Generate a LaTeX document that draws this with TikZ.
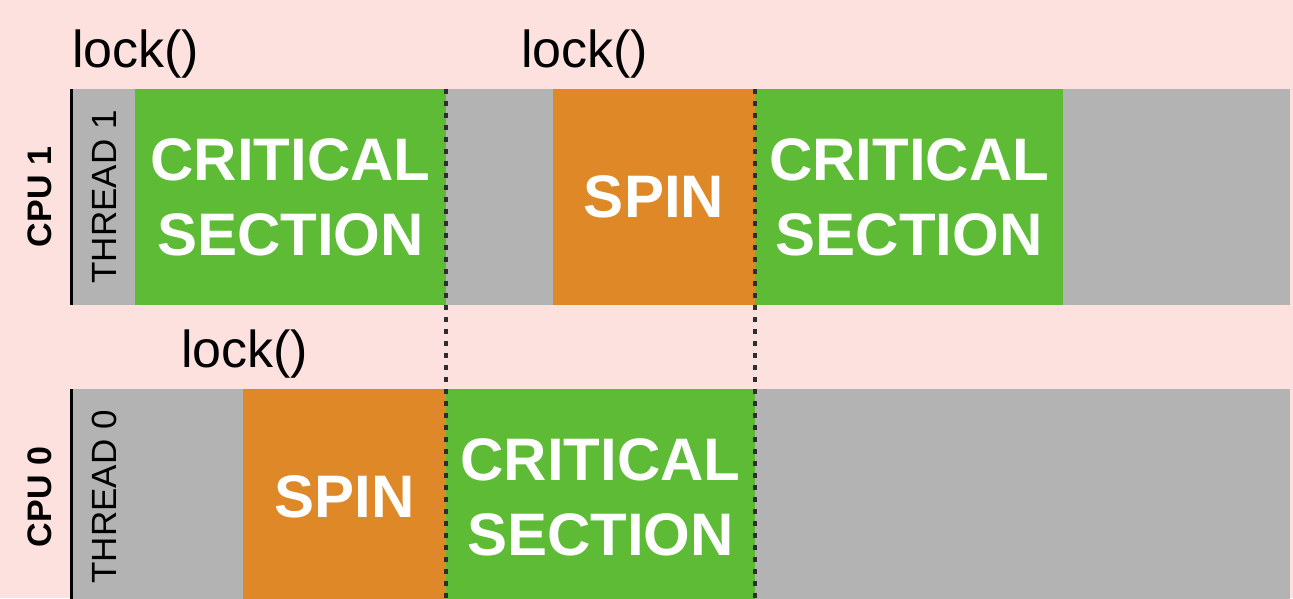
\documentclass[tikz,border=0pt]{standalone}
\usepackage{fontspec}
\setmainfont{Liberation Sans}
\definecolor{bgpink}{HTML}{FCE1DE}
\definecolor{segGray}{HTML}{B3B3B3}
\definecolor{segGreen}{HTML}{5DBB35}
\definecolor{segOrange}{HTML}{DF8827}
\definecolor{dashGray}{HTML}{2E2E2E}
\begin{document}
\begin{tikzpicture}[x=1pt,y=-1pt,
  seg/.style={anchor=north west, inner sep=0pt, outer sep=0pt, minimum height=216pt, draw=none, text=white, align=center, font=\fontsize{60}{75}\selectfont\bfseries},
  idle/.style={seg, fill=segGray},
  crit/.style={seg, fill=segGreen},
  spinbox/.style={seg, fill=segOrange},
  locklbl/.style={anchor=base west, inner sep=0pt, font=\fontsize{52}{58}\selectfont},
  cpulbl/.style={rotate=90, inner sep=0pt, font=\fontsize{34}{40}\selectfont\bfseries},
  thrlbl/.style={rotate=90, inner sep=0pt, font=\fontsize{35}{40}\selectfont, text=black},
  axisline/.style={line width=3pt, black},
  syncline/.style={line width=3.2pt, dashGray, dash pattern=on 5pt off 7pt}
]
\fill[bgpink] (0,0) rectangle (1293,598);
\useasboundingbox (0,0) rectangle (1293,598);

% CPU 1 row
\node[idle, minimum width=64pt] (t1lab) at (71,89) {};
\node[crit, minimum width=311pt] (c1a) at (135,89) {CRITICAL\\SECTION};
\node[idle, minimum width=107pt] (g1a) at (446,89) {};
\node[spinbox, minimum width=202pt] (s1) at (553,89) {SPIN};
\node[crit, minimum width=308pt] (c1b) at (755,89) {CRITICAL\\SECTION};
\node[idle, minimum width=227pt] (g1b) at (1063,89) {};

% CPU 0 row
\node[idle, minimum width=172pt] (g0a) at (71,389) {};
\node[spinbox, minimum width=203pt] (s0) at (243,389) {SPIN};
\node[crit, minimum width=309pt] (c0) at (446,389) {CRITICAL\\SECTION};
\node[idle, minimum width=535pt] (g0b) at (755,389) {};

% axis lines
\draw[axisline] (t1lab.north west) -- (t1lab.south west);
\draw[axisline] (g0a.north west) -- (g0a.south west);

% labels
\node[cpulbl] (cpu1) at (40,197) {CPU 1};
\node[cpulbl] (cpu0) at (40,497) {CPU 0};
\node[thrlbl] (thr1) at (104,197) {THREAD 1};
\node[thrlbl] (thr0) at (104,497) {THREAD 0};

\node[locklbl] (lk1) at (72,67) {lock()};
\node[locklbl] (lk2) at (521,67) {lock()};
\node[locklbl] (lk3) at (181,367) {lock()};

% synchronisation lines
\coordinate (d1end) at (446,598);
\coordinate (d2end) at (755,598);
\draw[syncline] (c1a.north east) -- (d1end);
\draw[syncline] (s1.north east) -- (d2end);
\end{tikzpicture}
\end{document}
